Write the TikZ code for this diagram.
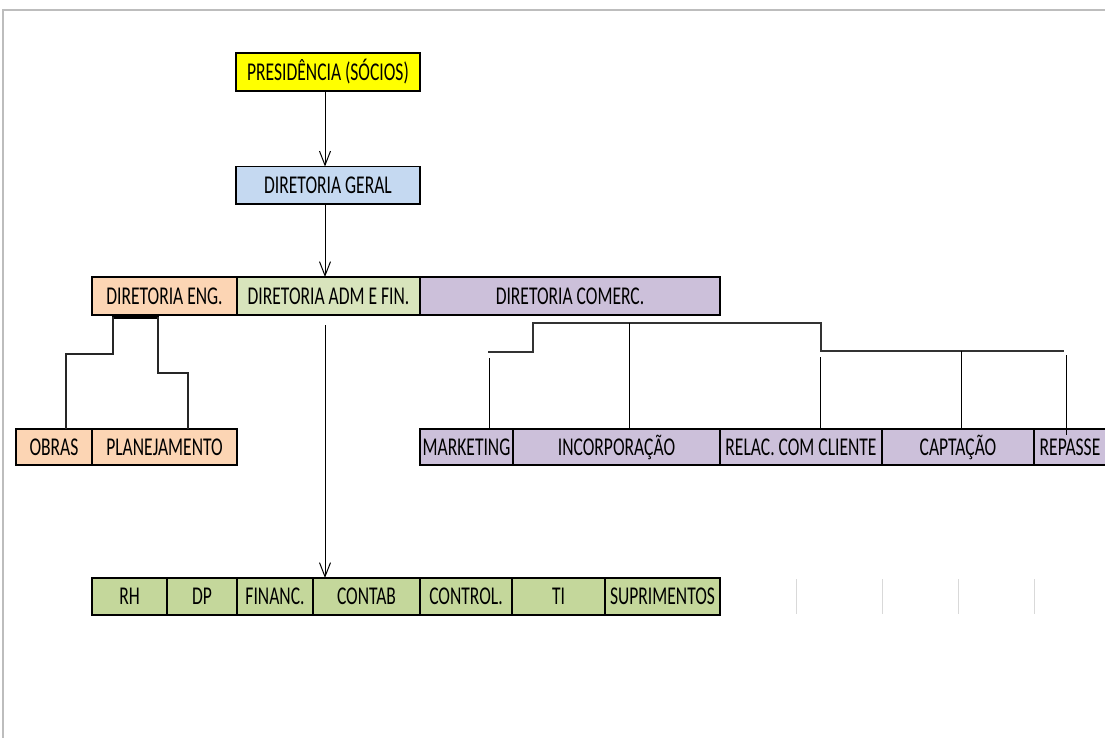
\documentclass[tikz,border=0pt]{standalone}
\usepackage{fontspec}
\setmainfont{Carlito}
\usetikzlibrary{arrows.meta}
\definecolor{cyellow}{HTML}{FFFF00}
\definecolor{cblue}{HTML}{C5D9F1}
\definecolor{corange}{HTML}{FCD5B4}
\definecolor{cgreenl}{HTML}{D8E4BC}
\definecolor{cgreen}{HTML}{C4D79B}
\definecolor{cpurple}{HTML}{CCC0DA}
\definecolor{cframe}{HTML}{BDBDBD}
\newcommand{\sq}[1]{\scalebox{0.685}[1]{#1}}
\newcommand{\bx}[7]{\node[box, fill=#6, minimum width=#4-#2, minimum height=#5-#3] (#1) at ({(#2+#4)/2},{(#3+#5)/2}) {\sq{#7}};}
\begin{document}
\begin{tikzpicture}[x=1pt,y=-1pt,
  box/.style={draw=black, line width=1.3pt, inner sep=0pt, outer sep=0pt,
    font=\fontsize{25.6}{28}\selectfont, text height=16.5pt, text depth=0pt},
  arr/.style={line width=1pt, -{Straight Barb[length=14pt,width=11pt,line width=1pt]}},
  hline/.style={draw=black!80, line width=2pt},
  vline/.style={draw=black, line width=1pt},
  eline/.style={draw=black!85, line width=1.5pt},
  faint/.style={draw=black!15, line width=1pt}]
\useasboundingbox (0,0) rectangle (1105,738);
\draw[cframe, line width=2pt] (3,738) -- (3,10) -- (1105,10);
% level 1-2
\bx{pres}{236}{53}{420}{91}{cyellow}{PRESIDÊNCIA (SÓCIOS)}
\bx{geral}{236}{166.5}{420}{204}{cblue}{DIRETORIA GERAL}
% level 3
\bx{eng}{92}{277}{237}{315}{corange}{DIRETORIA ENG.}
\bx{adm}{237}{277}{420}{315}{cgreenl}{DIRETORIA ADM E FIN.}
\bx{com}{420}{277}{720}{315}{cpurple}{DIRETORIA COMERC.}
% level 4
\bx{obras}{16}{429}{92}{465}{corange}{OBRAS}
\bx{plan}{92}{429}{237}{465}{corange}{PLANEJAMENTO}
\bx{mkt}{420}{429}{513}{465}{cpurple}{MARKETING}
\bx{inc}{513}{429}{720}{465}{cpurple}{INCORPORAÇÃO}
\bx{rel}{720}{429}{882}{465}{cpurple}{RELAC. COM CLIENTE}
\bx{cap}{882}{429}{1034}{465}{cpurple}{CAPTAÇÃO}
\bx{rep}{1034}{429}{1106}{465}{cpurple}{REPASSE}
% level 5
\bx{rh}{92}{578}{167}{615}{cgreen}{RH}
\bx{dp}{167}{578}{237}{615}{cgreen}{DP}
\bx{fin}{237}{578}{313}{615}{cgreen}{FINANC.}
\bx{contab}{313}{578}{420}{615}{cgreen}{CONTAB}
\bx{ctrl}{420}{578}{512}{615}{cgreen}{CONTROL.}
\bx{ti}{512}{578}{605}{615}{cgreen}{TI}
\bx{sup}{605}{578}{720}{615}{cgreen}{SUPRIMENTOS}
% arrows
\draw[arr] ([xshift=-3pt]pres.south) -- ([xshift=-3pt]geral.north);
\draw[arr] ([xshift=-3pt]geral.south) -- ([xshift=-3pt]adm.north west -| geral.south);
\coordinate (a3) at (325,325);
\draw[arr] (a3) -- (a3 |- contab.north);
% engineering connectors
\coordinate (eb1) at (112,317);
\coordinate (eb2) at (159,317);
\draw[draw=black, line width=3pt] (eb1) -- (eb2);
\coordinate (e1) at (66,354);
\coordinate (e2) at (188,373);
\draw[eline] (113,317) |- (e1) -- (e1 |- obras.north);
\draw[eline] (158,317) |- (e2) -- (e2 |- plan.north);
% commercial connectors
\draw[hline] (488,352) -- (533,352) -- (533,323) -- (821,323) -- (821,351) -- (1064,351);
\coordinate (c1) at (489,358);
\coordinate (c2) at (629,323);
\coordinate (c3) at (820,357);
\coordinate (c4) at (961,351);
\coordinate (c5) at (1066,355);
\draw[vline] (c1) -- (c1 |- mkt.north);
\draw[vline] (c2) -- (c2 |- inc.north);
\draw[vline] (c3) -- (c3 |- rel.north);
\draw[vline] (c4) -- (c4 |- cap.north);
\draw[vline] (c5) -- ([yshift=-6pt]c5 |- rep.north);
% faint marks
\foreach \xx in {796,882,958,1034} \draw[faint] (\xx,579) -- (\xx,614);
\end{tikzpicture}
\end{document}
